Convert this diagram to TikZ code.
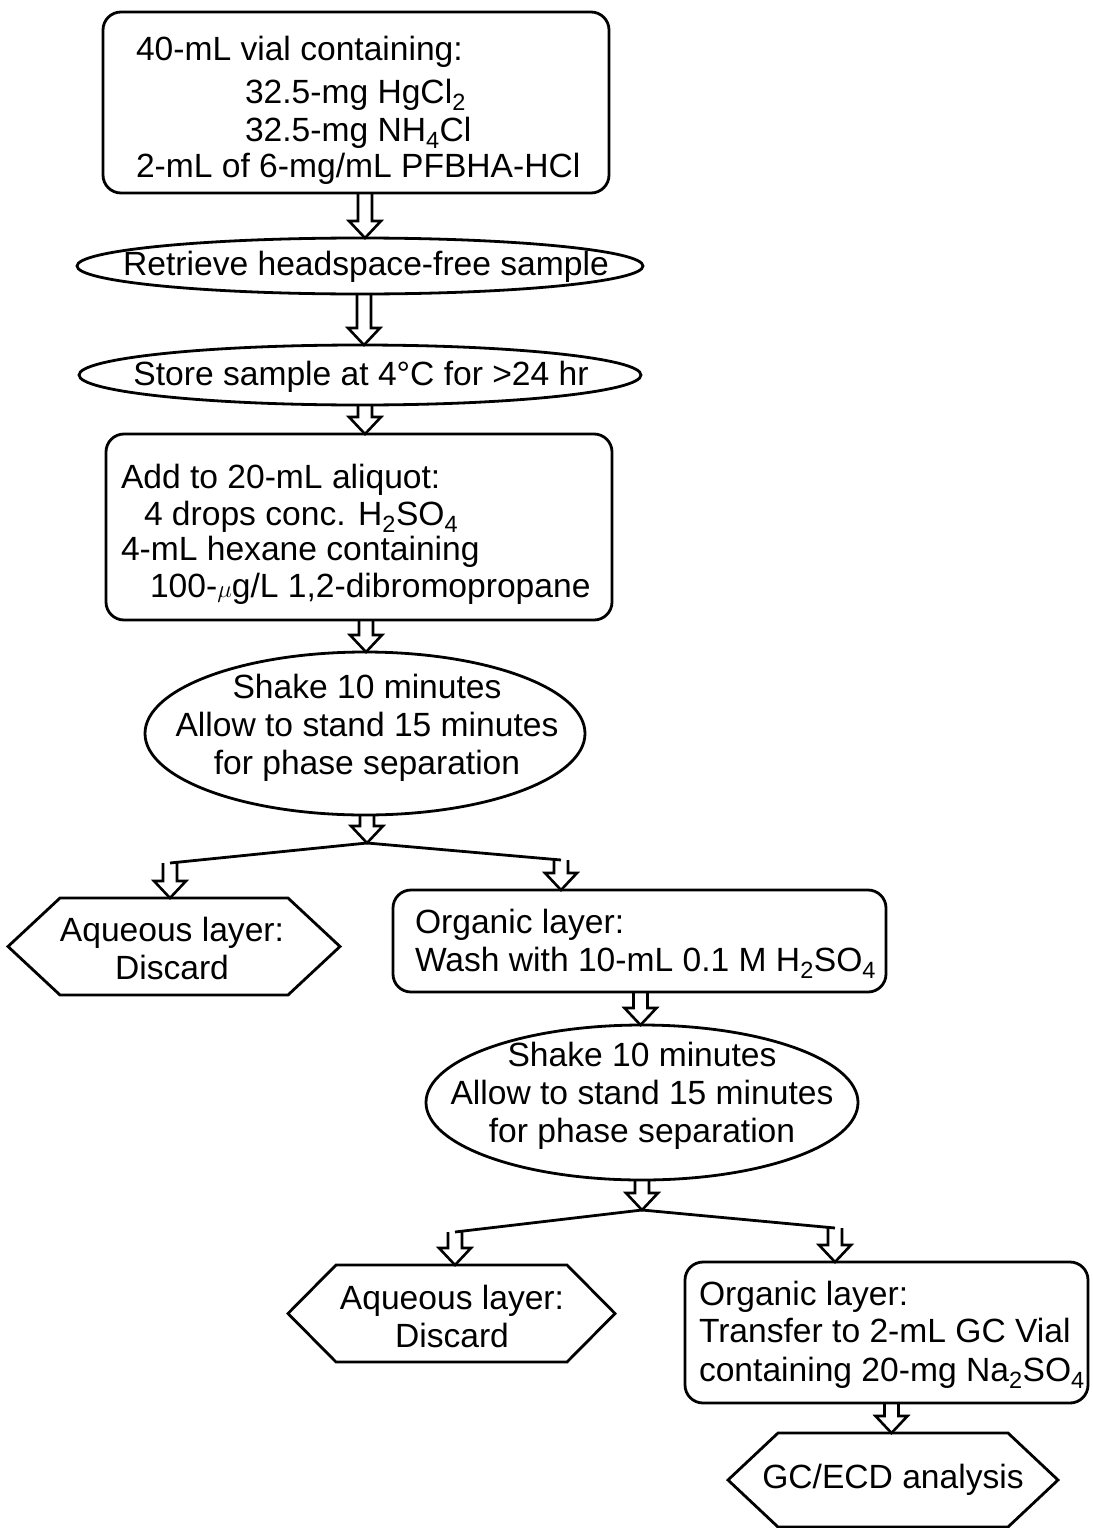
\documentclass[tikz,border=0pt]{standalone}
\usepackage{fontspec}
\setmainfont{Liberation Sans}
\usetikzlibrary{shapes.geometric,calc}
\begin{document}
\begin{tikzpicture}[x=1pt,y=-1pt,
  every node/.style={font=\fontsize{33.6}{38}\selectfont, inner sep=0pt, outer sep=0pt},
  shp/.style={draw, line width=2.8pt},
  rbox/.style={shp, rectangle, rounded corners=18pt},
  ell/.style={shp, ellipse},
  txt/.style={anchor=base west},
  ctxt/.style={align=center},
  hexline/.style={draw, line width=2.8pt, line join=miter},
  branch/.style={draw, line width=2.8pt},
  harrow/.style={draw, line width=2.6pt, line join=miter,
    to path={let \p1=(\tikztostart), \p2=(\tikztotarget) in
      (\x1-7pt,\y1) -- (\x1-7pt,\y2+17pt) -- (\x1-16pt,\y2+17pt) -- (\x1,\y2)
      -- (\x1+16pt,\y2+17pt) -- (\x1+7pt,\y2+17pt) -- (\x1+7pt,\y1)}}
]
\useasboundingbox (0,0) rectangle (1092,1528);

% top box
\node[rbox, minimum width=506, minimum height=181] (top) at (356,102.5) {};
\node[txt] (t1) at (136,60) {40-mL vial containing:};
\node[txt] (t2) at (245,103) {32.5-mg HgCl\textsubscript{2}};
\node[txt] (t3) at (245,141) {32.5-mg NH\textsubscript{4}Cl};
\node[txt] (t4) at (136,177) {2-mL of 6-mg/mL PFBHA-HCl};

% ellipses 1 and 2
\node[ell, minimum width=566, minimum height=56] (e1) at (360,266) {};
\node (e1t) at (366,267) {Retrieve headspace-free sample};
\node[ell, minimum width=562, minimum height=60] (e2) at (360,375) {};
\node (e2t) at (361,377) {Store sample at 4°C for >24 hr};

% box 4
\node[rbox, minimum width=506, minimum height=186] (b4) at (359,527) {};
\node[txt] (b4a) at (121,488) {Add to 20-mL aliquot:};
\node[txt] (b4b) at (144,525) {4 drops conc. H\textsubscript{2}SO\textsubscript{4}};
\node[txt] (b4c) at (121,560) {4-mL hexane containing};
\node[txt] (b4d) at (150,597) {100-$\mu$g/L 1,2-dibromopropane};

% shake ellipse 1
\node[ell, minimum width=440, minimum height=163] (e3) at (365,733.5) {};
\node[ctxt] (e3t) at (367,728) {Shake 10 minutes\\Allow to stand 15 minutes\\for phase separation};

% branch 1
\coordinate (br1) at (367,843);
\coordinate (br1l) at (170,863);
\coordinate (br1r) at (561,860);

% hexagon 1
\node[minimum width=332, minimum height=97] (h1) at (174,946.5) {};
\draw[hexline] ([xshift=52]h1.north west) -- ([xshift=-52]h1.north east) -- (h1.east)
  -- ([xshift=-52]h1.south east) -- ([xshift=52]h1.south west) -- (h1.west) -- cycle;
\node[ctxt] (h1t) at (172,948) {Aqueous layer:\\Discard};

% box 7
\node[rbox, minimum width=493, minimum height=102] (b7) at (639.5,941) {};
\node[txt] (b7a) at (415,933) {Organic layer:};
\node[txt] (b7b) at (415,971) {Wash with 10-mL 0.1 M H\textsubscript{2}SO\textsubscript{4}};

% shake ellipse 2
\node[ell, minimum width=432, minimum height=155] (e4) at (642,1102.5) {};
\node[ctxt] (e4t) at (642,1096) {Shake 10 minutes\\Allow to stand 15 minutes\\for phase separation};

% branch 2
\coordinate (br2) at (642,1210);
\coordinate (br2l) at (455,1232);
\coordinate (br2r) at (835,1228);

% hexagon 2
\node[minimum width=327, minimum height=97] (h2) at (451.5,1313.5) {};
\draw[hexline] ([xshift=48]h2.north west) -- ([xshift=-48]h2.north east) -- (h2.east)
  -- ([xshift=-48]h2.south east) -- ([xshift=48]h2.south west) -- (h2.west) -- cycle;
\node[ctxt] (h2t) at (452,1316) {Aqueous layer:\\Discard};

% box 10
\node[rbox, minimum width=403, minimum height=141] (b10) at (886.5,1332.5) {};
\node[txt] (b10a) at (699,1305) {Organic layer:};
\node[txt] (b10b) at (699,1342) {Transfer to 2-mL GC Vial};
\node[txt] (b10c) at (699,1381) {containing 20-mg Na\textsubscript{2}SO\textsubscript{4}};

% hexagon 3
\node[minimum width=330, minimum height=94] (h3) at (893,1480) {};
\draw[hexline] ([xshift=50]h3.north west) -- ([xshift=-50]h3.north east) -- (h3.east)
  -- ([xshift=-50]h3.south east) -- ([xshift=50]h3.south west) -- (h3.west) -- cycle;
\node (h3t) at (893,1480) {GC/ECD analysis};

% arrows
\draw[harrow] ([xshift=9]top.south) to (e1.north);
\draw[harrow] ([xshift=4]e1.south) to (e2.north);
\draw[harrow] ([xshift=5]e2.south) to (b4.north);
\draw[harrow] ([xshift=7]b4.south) to (e3.north);
\draw[harrow] ([xshift=2]e3.south) to (br1);
\draw[branch] (br1l) -- (br1) -- (br1r);
\draw[harrow] (br1l) to (h1.north);
\draw[harrow] (br1r) to (b7.north);
\draw[harrow] ([xshift=1]b7.south) to (e4.north);
\draw[harrow] (e4.south) to (br2);
\draw[branch] (br2l) -- (br2) -- (br2r);
\draw[harrow] (br2l) to (h2.north);
\draw[harrow] (br2r) to (b10.north);
\draw[harrow] ([xshift=5]b10.south) to (h3.north);
\end{tikzpicture}
\end{document}
